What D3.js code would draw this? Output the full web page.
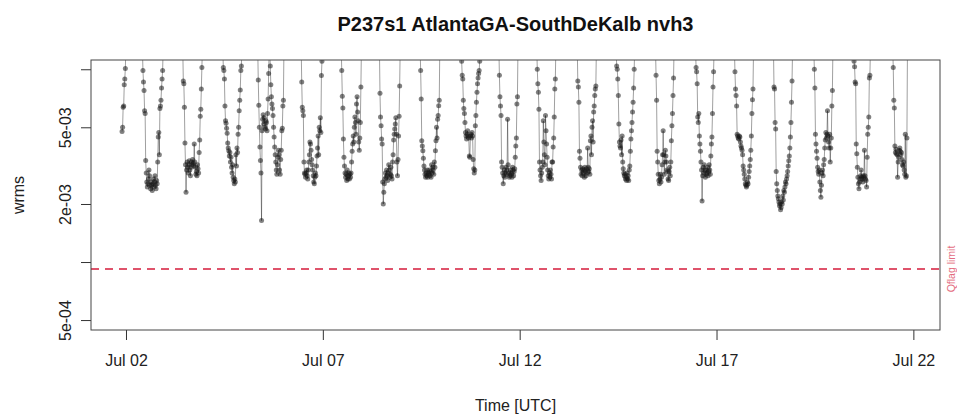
<!DOCTYPE html>
<html><head><meta charset="utf-8">
<script src="https://cdn.jsdelivr.net/npm/d3@7/dist/d3.min.js"></script>
<style>
body{margin:0;background:#fff}
text{font-family:"Liberation Sans", Arial, Helvetica, sans-serif}
</style>
</head><body>
<svg id="chart" width="959" height="417"></svg>
<script>
// ---------------- data ----------------
const chartTitle = "P237s1 AtlantaGA-SouthDeKalb nvh3";
const xLabel = "Time [UTC]";
const yLabel = "wrms";
const limitLabel = "Qflag limit";
const baseTime = "2021-07-02T00:00:00Z";
const xDomain = ["2021-07-01T02:40:00Z", "2021-07-22T16:14:00Z"];
const xTicks = ["2021-07-02T00:00:00Z", "2021-07-07T00:00:00Z", "2021-07-12T00:00:00Z", "2021-07-17T00:00:00Z", "2021-07-22T00:00:00Z"];
const yDomain = [4.44e-4, 1.117e-2];
const yTicks = [5e-4, 1e-3, 2e-3, 5e-3, 1e-2];
const yTickLabels = ["5e-04", "", "2e-03", "5e-03", ""];
const qflagLimit = 9.2e-4;
const valueUnit = 1e-3;      // episode values are in units of 1e-3
const stepMinutes = 20;      // sampling interval
// start of each episode, hours after baseTime
const epStartHour = [-2.4, 10.0, 34.6, 59.0, 80.3, 106.8, 131.2, 154.5, 179.3, 204.3, 227.3,
                     250.4, 275.1, 298.8, 322.8, 347.2, 370.9, 394.7, 419.3, 443.5, 467.4];
const ep01 = [4.75, 5.0, 6.35, 6.45, 8.3, 8.9, 10.1, 13];
const ep02 = [13, 9.85, 8.6, 7.75, 6.1, 5.9, 3.36, 2.9, 2.6, 2.45, 2.55, 2.7, 3.0, 2.8, 2.5, 2.4, 2.6, 2.5, 2.35, 2.55, 2.7, 2.45, 2.6, 2.8, 2.5, 2.4, 2.65, 2.55, 3.3, 4.45, 4.7, 3.6, 6.25, 6.45, 6.9, 8.0, 8.9, 9.85, 13];
const ep03 = [13, 8.7, 8.4, 6.35, 4.15, 3.2, 2.3, 3.0, 3.3, 3.1, 2.9, 3.2, 3.35, 3.0, 2.8, 3.1, 3.3, 3.2, 3.4, 3.25, 3.15, 4.1, 3.3, 3.1, 2.85, 2.95, 2.8, 3.2, 3.05, 2.9, 3.7, 4.3, 5.7, 6.2, 7.9, 10.2, 13];
const ep04 = [13, 10.2, 9.85, 8.9, 6.45, 5.4, 5.25, 4.95, 4.65, 4.15, 3.9, 3.78, 3.55, 3.7, 3.3, 3.5, 3.1, 2.9, 3.2, 2.75, 2.65, 2.55, 2.7, 2.6, 3.6, 3.15, 3.9, 3.7, 4.6, 5.0, 6.1, 6.9, 7.8, 9.85, 10.4, 13];
const ep05 = [13, 8.8, 6.5, 5.0, 3.95, 3.36, 2.9, 1.64, 4.8, 5.5, 5.8, 5.2, 5.6, 5.0, 4.9, 5.4, 5.3, 4.8, 5.9, 7.0, 9.5, 13, 13, 10.4, 8.3, 7.2, 6.6, 6.25, 5.75, 5.0, 4.45, 3.95, 3.6, 3.3, 3.0, 2.85, 3.2, 3.5, 3.8, 3.6, 3.0, 2.85, 3.4, 3.8, 4.8, 4.95, 6.45, 6.9, 13];
const ep06 = [13, 8.6, 6.35, 6.1, 5.75, 3.3, 2.9, 2.85, 2.75, 2.9, 3.0, 2.8, 2.7, 3.0, 3.3, 3.6, 4.2, 4.1, 3.8, 3.4, 3.2, 3.0, 2.8, 2.6, 2.55, 2.75, 2.9, 2.8, 3.15, 3.55, 3.9, 4.5, 3.6, 5.0, 4.8, 5.6, 4.7, 9.27, 11, 13];
const ep07 = [13, 9.85, 7.25, 6.3, 4.35, 3.5, 3.15, 2.9, 2.75, 2.85, 2.65, 3.0, 2.7, 2.8, 2.9, 2.7, 2.85, 2.75, 2.9, 3.3, 3.75, 4.1, 4.5, 4.2, 5.0, 5.65, 5.3, 4.6, 6.6, 7.2, 6.0, 5.4, 4.2, 3.8, 4.4, 5.3, 8.1, 13];
const ep08 = [13, 7.5, 5.65, 5.1, 4.35, 4.1, 2.6, 2.0, 2.3, 2.55, 2.7, 2.9, 2.75, 3.0, 2.8, 2.65, 2.9, 3.2, 3.0, 2.75, 2.85, 3.1, 2.8, 2.7, 3.3, 3.6, 4.3, 4.6, 4.9, 5.2, 5.6, 4.6, 3.3, 2.8, 3.4, 4.5, 5.7, 8.2, 13];
const ep09 = [13, 9.85, 7.0, 4.26, 4.0, 3.78, 3.45, 3.15, 3.0, 2.85, 2.75, 2.9, 2.8, 3.0, 2.75, 2.9, 2.85, 3.0, 2.8, 2.95, 2.75, 3.2, 2.9, 3.1, 3.0, 2.85, 3.3, 3.1, 3.78, 4.26, 5.0, 4.4, 5.5, 5.75, 6.47, 6.9, 13];
const ep10 = [13, 11, 9.3, 8.9, 6.9, 6.25, 5.9, 5.3, 4.7, 4.5, 4.35, 4.6, 4.8, 4.5, 4.4, 3.55, 3.5, 4.5, 4.6, 4.4, 4.7, 4.5, 3.4, 3.05, 2.9, 3.0, 5.1, 5.75, 6.75, 7.6, 8.4, 9.0, 9.5, 9.85, 11, 13];
const ep11 = [13, 9.3, 7.2, 6.45, 5.75, 3.3, 3.1, 2.9, 2.55, 2.8, 3.0, 2.75, 2.9, 3.1, 2.85, 3.0, 5.5, 3.2, 2.9, 2.75, 2.8, 3.0, 2.85, 2.9, 2.75, 3.1, 3.0, 2.8, 2.95, 3.05, 3.5, 4.0, 4.4, 6.6, 7.2, 13];
const ep12 = [13, 10, 8.4, 7.6, 6.2, 3.3, 3.0, 2.8, 2.65, 2.9, 3.1, 3.3, 5.4, 4.2, 3.6, 3.2, 5.75, 4.8, 4.1, 3.5, 3.0, 2.8, 2.7, 2.9, 2.75, 3.0, 2.85, 2.7, 3.3, 3.3, 3.95, 4.4, 5.65, 7.9, 8.9, 13];
const ep13 = [13, 8.7, 8.1, 6.75, 3.75, 3.45, 3.1, 2.85, 3.0, 2.8, 3.05, 2.9, 3.0, 2.75, 3.1, 2.95, 2.8, 3.05, 2.9, 3.9, 3.1, 2.95, 3.05, 2.85, 4.26, 4.5, 3.6, 5.0, 5.4, 4.2, 6.0, 6.45, 7.3, 7.9, 8.2, 13];
const ep14 = [13, 10.4, 10, 8.9, 7.3, 5.2, 4.2, 4.0, 3.9, 4.3, 3.6, 4.5, 3.3, 3.05, 2.9, 2.8, 2.85, 2.7, 2.75, 2.65, 2.9, 2.7, 2.8, 2.65, 3.0, 3.15, 3.75, 4.35, 4.8, 5.3, 6.0, 6.75, 8.0, 10, 13];
const ep15 = [13, 9.3, 6.9, 3.75, 3.3, 2.85, 2.65, 2.55, 2.7, 2.85, 2.6, 2.75, 3.2, 3.6, 4.8, 3.6, 2.85, 3.3, 3.8, 3.55, 3.3, 3.0, 2.95, 2.7, 2.65, 2.95, 3.1, 2.8, 3.3, 4.26, 5.1, 5.9, 7.3, 9.0, 13];
const ep16 = [13, 10.2, 9.7, 8.4, 5.65, 5.3, 5.9, 4.5, 4.1, 3.75, 3.3, 3.0, 2.07, 2.8, 3.1, 2.9, 3.2, 3.0, 2.75, 2.85, 3.0, 2.9, 3.1, 2.8, 2.95, 3.2, 3.0, 2.85, 3.55, 4.1, 4.45, 5.9, 8.1, 9.7, 13];
const ep17 = [13, 9.7, 7.9, 7.3, 6.45, 4.6, 4.5, 4.4, 4.35, 4.5, 4.45, 4.2, 4.0, 3.9, 3.8, 3.6, 3.15, 3.0, 2.85, 2.7, 2.55, 2.5, 2.45, 2.5, 2.6, 2.55, 2.75, 2.95, 3.15, 3.4, 3.8, 4.5, 5.9, 6.95, 7.9, 13];
const ep18 = [13, 8.1, 7.9, 5.3, 4.9, 2.95, 2.55, 2.35, 2.2, 2.13, 2.05, 1.96, 2.0, 1.87, 1.92, 2.05, 2.0, 2.2, 2.1, 2.35, 2.3, 2.45, 2.6, 2.55, 2.7, 2.8, 2.95, 3.15, 3.35, 3.55, 3.9, 4.45, 5.3, 6.75, 8.7, 13];
const ep19 = [13, 10, 8.0, 4.6, 4.1, 3.75, 3.45, 3.1, 2.95, 2.85, 3.0, 2.6, 2.35, 2.17, 2.5, 2.9, 3.0, 2.8, 3.2, 3.4, 3.9, 4.3, 4.7, 4.4, 4.6, 6.1, 4.5, 4.2, 3.9, 4.6, 3.3, 3.9, 4.4, 6.45, 7.75, 13];
const ep20 = [13, 11, 10.3, 8.6, 8.4, 4.1, 3.65, 3.1, 2.75, 2.55, 2.4, 2.6, 2.7, 2.8, 3.0, 2.75, 2.7, 2.6, 2.8, 2.75, 3.8, 2.8, 2.7, 2.65, 2.45, 3.5, 4.6, 5.0, 5.65, 9.0, 9.3, 13];
const ep21 = [13, 10.2, 6.9, 6.3, 4.0, 3.7, 3.85, 3.65, 3.6, 2.75, 3.3, 3.5, 3.8, 3.9, 3.75, 3.6, 3.7, 3.4, 3.2, 3.15, 3.3, 3.0, 2.85, 4.6, 2.75, 2.8, 4.4, 13];
const episodes = [ep01, ep02, ep03, ep04, ep05, ep06, ep07, ep08, ep09, ep10, ep11,
                  ep12, ep13, ep14, ep15, ep16, ep17, ep18, ep19, ep20, ep21];

// ---------------- layout ----------------
const W = 959, H = 417;
const m = {left: 91, right: 19, top: 60, bottom: 87};
const pw = W - m.left - m.right, ph = H - m.top - m.bottom;
const limitColor = "#DF536B";

const svg = d3.select("#chart");
const base = new Date(baseTime).getTime();
const series = episodes.map((vals, k) => vals.map((v, i) => ({
  t: new Date(base + (epStartHour[k] * 60 + i * stepMinutes) * 60000),
  v: v * valueUnit
})));

const x = d3.scaleUtc().domain(xDomain.map(d => new Date(d))).range([m.left, m.left + pw]);
const y = d3.scaleLog().domain(yDomain).range([m.top + ph, m.top]);

svg.append("defs").append("clipPath").attr("id", "plotclip")
  .append("rect").attr("x", m.left).attr("y", m.top).attr("width", pw).attr("height", ph);

const g = svg.append("g").attr("clip-path", "url(#plotclip)");
const line = d3.line().x(d => x(d.t)).y(d => y(d.v));
g.selectAll("path.ser").data(series).join("path").attr("class", "ser")
  .attr("d", line).attr("fill", "none")
  .attr("stroke", "rgba(0,0,0,0.42)").attr("stroke-width", 0.9);
g.selectAll("circle").data(series.flat()).join("circle")
  .attr("cx", d => x(d.t)).attr("cy", d => y(d.v)).attr("r", 2.5)
  .attr("fill", "rgba(25,25,25,0.55)");

// Qflag limit
g.append("line").attr("x1", m.left).attr("x2", m.left + pw)
  .attr("y1", y(qflagLimit)).attr("y2", y(qflagLimit))
  .attr("stroke", limitColor).attr("stroke-width", 2).attr("stroke-dasharray", "8,6");
svg.append("text").attr("transform", `translate(955,${y(qflagLimit)}) rotate(-90)`)
  .attr("text-anchor", "middle").attr("font-size", 10.5).attr("fill", limitColor)
  .attr("opacity", 0.85).text(limitLabel);

// axes
const yAxis = svg.append("g").attr("transform", `translate(${m.left},0)`)
  .call(d3.axisLeft(y).tickValues(yTicks).tickSize(10).tickFormat((d, i) => yTickLabels[i]));
yAxis.select(".domain").remove();
yAxis.selectAll(".tick line").attr("stroke", "#333");
yAxis.selectAll(".tick text").attr("x", 0).attr("y", -20).attr("dy", 0)
  .attr("transform", "rotate(-90)").attr("text-anchor", "middle")
  .attr("font-size", 16).attr("fill", "#222");

const xAxis = svg.append("g").attr("transform", `translate(0,${m.top + ph})`)
  .call(d3.axisBottom(x).tickValues(xTicks.map(d => new Date(d))).tickSize(10).tickPadding(15)
    .tickFormat(d3.utcFormat("%b %d")));
xAxis.select(".domain").remove();
xAxis.selectAll(".tick line").attr("stroke", "#333");
xAxis.selectAll(".tick text").attr("font-size", 16).attr("fill", "#222");

svg.append("rect").attr("x", m.left).attr("y", m.top).attr("width", pw).attr("height", ph)
  .attr("fill", "none").attr("stroke", "#444").attr("stroke-width", 1);

svg.append("text").attr("x", m.left + pw / 2).attr("y", 31).attr("text-anchor", "middle")
  .attr("font-size", 20).attr("font-weight", "bold").attr("fill", "#111").text(chartTitle);
svg.append("text").attr("x", m.left + pw / 2).attr("y", 411).attr("text-anchor", "middle")
  .attr("font-size", 16).attr("fill", "#222").text(xLabel);
svg.append("text").attr("transform", `translate(24,${m.top + ph / 2}) rotate(-90)`)
  .attr("text-anchor", "middle").attr("font-size", 16).attr("fill", "#222").text(yLabel);
</script>
</body></html>
